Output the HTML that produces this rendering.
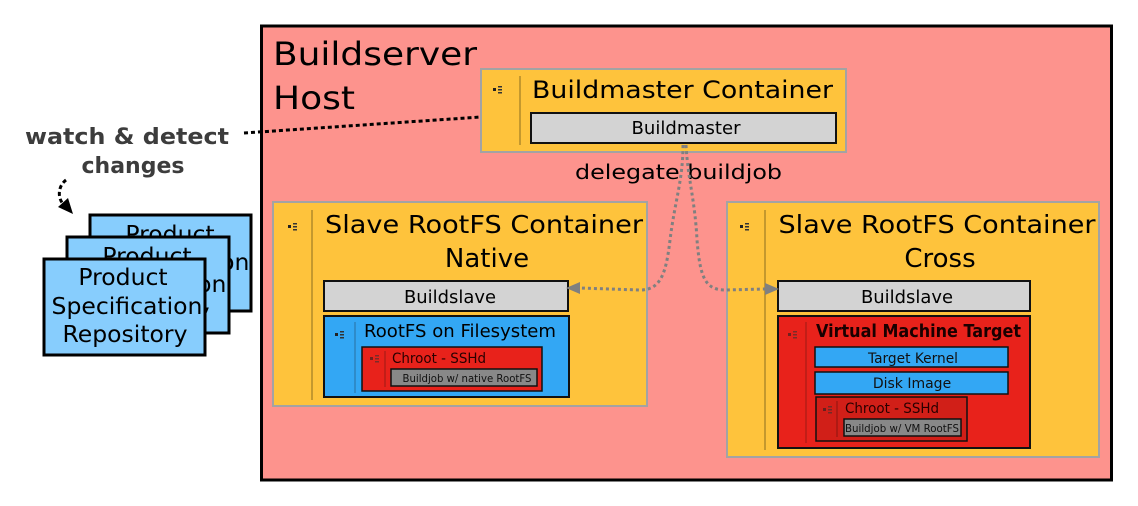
<!DOCTYPE html>
<html><head><meta charset="utf-8"><style>
html,body{margin:0;padding:0;background:#fff;}
svg{display:block;font-family:"DejaVu Sans","Liberation Sans",sans-serif;}
</style></head><body>
<svg width="1138" height="506" viewBox="0 0 1138 506" xmlns="http://www.w3.org/2000/svg">
<defs>
<g id="ic"><rect x="0" y="0" width="3" height="3" fill="#222"/><rect x="5" y="-2" width="4" height="1.5" fill="#333"/><rect x="5" y="1" width="4" height="1.5" fill="#333"/><rect x="5" y="4" width="4" height="1.5" fill="#333"/></g>
</defs>
<!-- Host -->
<rect x="261.5" y="26" width="850" height="454" fill="#fd938d" stroke="#000" stroke-width="3"/>
<text x="273" y="65" font-size="32" textLength="204" lengthAdjust="spacingAndGlyphs">Buildserver</text>
<text x="273" y="109" font-size="32" textLength="82" lengthAdjust="spacingAndGlyphs">Host</text>

<!-- Buildmaster container -->
<rect x="481" y="69" width="365" height="83" fill="#fec33c" stroke="#a3a3a3" stroke-width="2"/>
<use href="#ic" x="493" y="88"/>
<line x1="520" y1="76" x2="520" y2="145" stroke="#b08a2a" stroke-width="1.5"/>
<text x="532" y="98" font-size="24" textLength="301" lengthAdjust="spacingAndGlyphs">Buildmaster Container</text>
<rect x="531" y="113" width="305" height="30" fill="#d3d3d3" stroke="#111" stroke-width="2"/>
<text x="686" y="134" font-size="18" text-anchor="middle" textLength="109" lengthAdjust="spacingAndGlyphs">Buildmaster</text>

<text x="575" y="179" font-size="20" textLength="207" lengthAdjust="spacingAndGlyphs">delegate  buildjob</text>

<!-- Native slave -->
<rect x="273" y="202" width="374" height="204" fill="#fec33c" stroke="#a3a3a3" stroke-width="2"/>
<use href="#ic" x="288" y="225"/>
<line x1="312" y1="210" x2="312" y2="400" stroke="#b08a2a" stroke-width="1.5"/>
<text x="484" y="233" font-size="25" text-anchor="middle" textLength="318" lengthAdjust="spacingAndGlyphs">Slave RootFS Container</text>
<text x="487" y="267" font-size="26" text-anchor="middle">Native</text>
<rect x="324" y="281" width="244" height="30" fill="#d3d3d3" stroke="#111" stroke-width="2"/>
<text x="450" y="303" font-size="18" text-anchor="middle" textLength="92" lengthAdjust="spacingAndGlyphs">Buildslave</text>
<rect x="324" y="316" width="245" height="81" fill="#33a7f4" stroke="#111" stroke-width="2"/>
<use href="#ic" x="335" y="333"/>
<line x1="355" y1="322" x2="355" y2="393" stroke="#2a6fa0" stroke-width="1"/>
<text x="364" y="337" font-size="18" textLength="192" lengthAdjust="spacingAndGlyphs">RootFS on Filesystem</text>
<rect x="362" y="347" width="180" height="44" fill="#e8221b" stroke="#111" stroke-width="1.5"/>
<use href="#ic" x="370" y="357" opacity="0.6"/>
<line x1="385" y1="351" x2="385" y2="387" stroke="#9b1a14" stroke-width="1"/>
<text x="392" y="363" font-size="14" fill="#2a0000" textLength="94" lengthAdjust="spacingAndGlyphs">Chroot - SSHd</text>
<rect x="391" y="369" width="146" height="17" fill="#888" stroke="#111" stroke-width="1.5"/>
<text x="467" y="382" font-size="11" text-anchor="middle" fill="#111" textLength="129" lengthAdjust="spacingAndGlyphs">Buildjob w/ native RootFS</text>

<!-- Cross slave -->
<rect x="727" y="202" width="372" height="255" fill="#fec33c" stroke="#a3a3a3" stroke-width="2"/>
<use href="#ic" x="740" y="225"/>
<line x1="765" y1="210" x2="765" y2="450" stroke="#b08a2a" stroke-width="1.5"/>
<text x="937" y="233" font-size="25" text-anchor="middle" textLength="317" lengthAdjust="spacingAndGlyphs">Slave RootFS Container</text>
<text x="940" y="267" font-size="26" text-anchor="middle">Cross</text>
<rect x="778" y="281" width="252" height="30" fill="#d3d3d3" stroke="#111" stroke-width="2"/>
<text x="907" y="303" font-size="18" text-anchor="middle" textLength="92" lengthAdjust="spacingAndGlyphs">Buildslave</text>
<rect x="778" y="316" width="252" height="132" fill="#e8221b" stroke="#111" stroke-width="2"/>
<use href="#ic" x="788" y="333" opacity="0.6"/>
<line x1="806" y1="322" x2="806" y2="443" stroke="#9b1a14" stroke-width="1"/>
<text x="816" y="337" font-size="18" style="font-weight:600" textLength="205" lengthAdjust="spacingAndGlyphs" fill="#1a0000">Virtual Machine Target</text>
<rect x="815" y="347" width="193" height="20" fill="#33a7f4" stroke="#111" stroke-width="1.5"/>
<text x="913" y="363" font-size="14" text-anchor="middle" fill="#111" textLength="90" lengthAdjust="spacingAndGlyphs">Target Kernel</text>
<rect x="815" y="372" width="193" height="22" fill="#33a7f4" stroke="#111" stroke-width="1.5"/>
<text x="912" y="388" font-size="14" text-anchor="middle" fill="#111">Disk Image</text>
<rect x="816" y="397" width="151" height="44" fill="#d11f18" stroke="#111" stroke-width="1.5"/>
<use href="#ic" x="823" y="408" opacity="0.6"/>
<line x1="837" y1="401" x2="837" y2="437" stroke="#8a1510" stroke-width="1"/>
<text x="845" y="413" font-size="14" fill="#2a0000" textLength="94" lengthAdjust="spacingAndGlyphs">Chroot - SSHd</text>
<rect x="844" y="419" width="117" height="17" fill="#888" stroke="#111" stroke-width="1.5"/>
<text x="902" y="432" font-size="10.5" text-anchor="middle" fill="#111" textLength="114" lengthAdjust="spacingAndGlyphs">Buildjob w/ VM RootFS</text>

<!-- gray connectors -->
<g fill="none" stroke="#808080" stroke-width="3" stroke-dasharray="3,3">
<path d="M683,145 C683,180 675,200 670,240 C666,275 660,290 640,290 L580,288"/>
<path d="M686,145 C688,180 695,200 697,240 C700,275 704,290 725,290 L765,289"/>
</g>
<polygon points="566,288 580,282 580,294" fill="#808080"/>
<polygon points="779,289 765,283 765,295" fill="#808080"/>

<!-- watch text -->
<text x="127" y="144" font-size="22" font-weight="bold" fill="#3c3c3c" text-anchor="middle" textLength="204" lengthAdjust="spacingAndGlyphs">watch &amp; detect</text>
<text x="133" y="173" font-size="22" font-weight="bold" fill="#3c3c3c" text-anchor="middle">changes</text>
<line x1="244" y1="133" x2="481" y2="117" stroke="#000" stroke-width="3" stroke-dasharray="4,3"/>
<path d="M66,180 C58,186 57,198 64,205" fill="none" stroke="#000" stroke-width="3" stroke-dasharray="4,3"/>
<polygon points="73,214 58,207 68,198" fill="#000"/>

<!-- product boxes -->
<rect x="90" y="215" width="161" height="96" fill="#87cdfd" stroke="#000" stroke-width="3"/>
<text x="170" y="242" font-size="23.5" text-anchor="middle">Product</text>
<text x="174" y="270" font-size="23.5" text-anchor="middle">Specification</text>
<rect x="67" y="237" width="162" height="96" fill="#87cdfd" stroke="#000" stroke-width="3"/>
<text x="147" y="264" font-size="23.5" text-anchor="middle">Product</text>
<text x="151" y="292" font-size="23.5" text-anchor="middle">Specification</text>
<text x="147" y="320" font-size="23.5" text-anchor="middle">Repository</text>
<rect x="44" y="259" width="161" height="96" fill="#87cdfd" stroke="#000" stroke-width="3"/>
<text x="123" y="285" font-size="23.5" text-anchor="middle">Product</text>
<text x="127" y="314" font-size="23.5" text-anchor="middle">Specification</text>
<text x="125" y="342" font-size="23.5" text-anchor="middle">Repository</text>
</svg>
</body></html>
